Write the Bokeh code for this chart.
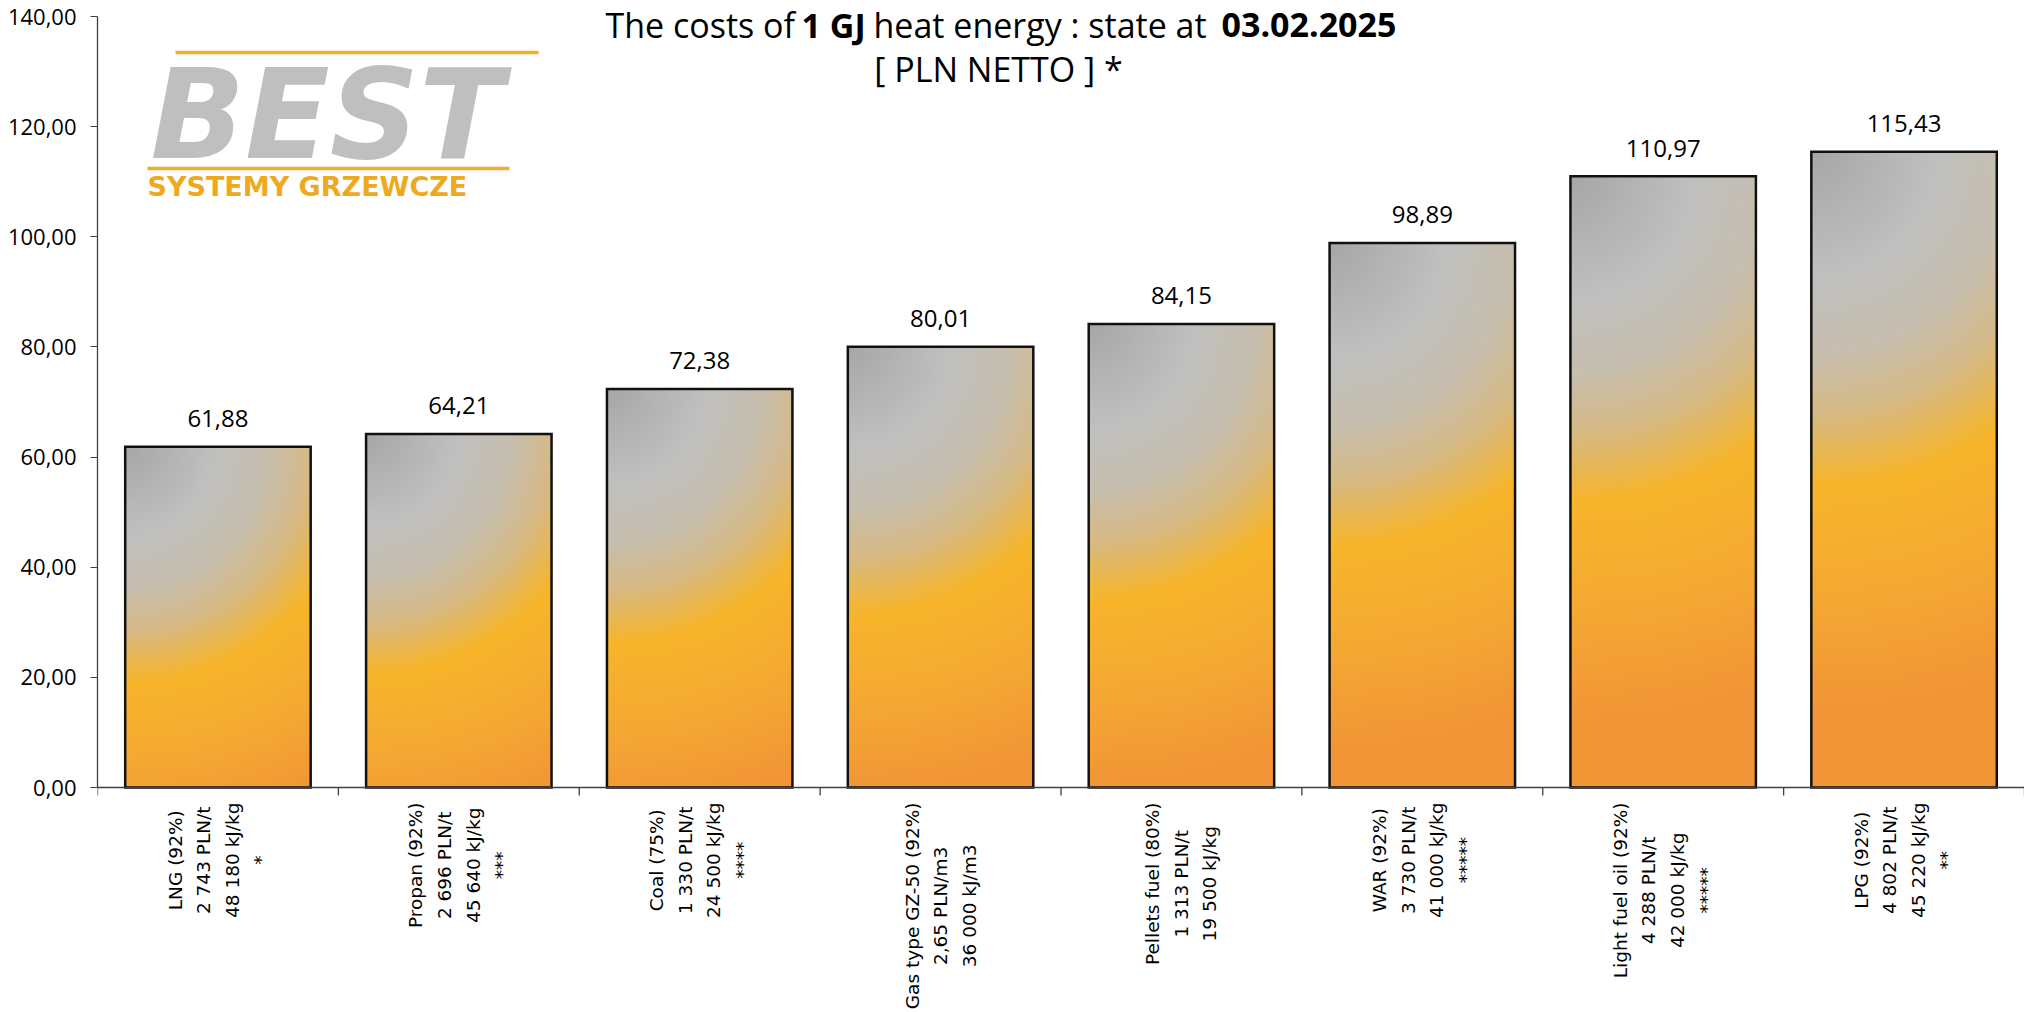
import numpy as np
from bokeh.plotting import figure
from bokeh.models import Range1d, FixedTicker, Span, Label
from bokeh.core.properties import value
from bokeh.embed import file_html
from bokeh.resources import INLINE

# ---------------- data ----------------
fuels = ["LNG", "Propan", "Coal", "Gas type GZ-50", "Pellets fuel", "WAR", "Light fuel oil", "LPG"]
efficiency = ["92%", "92%", "75%", "92%", "80%", "92%", "92%", "92%"]
prices = ["2 743 PLN/t", "2 696 PLN/t", "1 330 PLN/t", "2,65 PLN/m3", "1 313 PLN/t",
          "3 730 PLN/t", "4 288 PLN/t", "4 802 PLN/t"]
calorific = ["48 180 kJ/kg", "45 640 kJ/kg", "24 500 kJ/kg", "36 000 kJ/m3", "19 500 kJ/kg",
             "41 000 kJ/kg", "42 000 kJ/kg", "45 220 kJ/kg"]
notes = ["*", "***", "****", "", "", "*****", "*****", "**"]
cost_per_gj = [61.88, 64.21, 72.38, 80.01, 84.15, 98.89, 110.97, 115.43]
y_ticks = [0, 20, 40, 60, 80, 100, 120, 140]
y_tick_labels = ["0,00", "20,00", "40,00", "60,00", "80,00", "100,00", "120,00", "140,00"]

title_parts = [("The costs of", "normal"), ("1 GJ", "bold"), ("heat energy : state at", "normal"),
               ("03.02.2025", "bold")]
subtitle = "[ PLN NETTO ] *"

# ---------------- layout geometry (canvas pixels) ----------------
W, H = 2024, 1012
FRAME_L = 97
Y0_PX, YTOP_PX = 787, 16          # canvas rows of value 0 and of value 140
ppu_y = (Y0_PX - YTOP_PX) / 140.0
ppu_x = (W - FRAME_L) / len(fuels)
y_start = -(H - Y0_PX) / ppu_y
y_end = 140 + YTOP_PX / ppu_y
BASE_CORR = 0.42                  # shift (in em) for alphabetic baseline placement


def dx(px):
    return (px - FRAME_L) / ppu_x


def dy(py):
    return (Y0_PX - py) / ppu_y


def dyb(py, fs):
    # data y for a text whose alphabetic baseline should sit at canvas row py
    return dy(py - BASE_CORR * fs)


n = len(fuels)
centers = [i + 0.5 for i in range(n)]
bar_w = 0.77

labels = []
for f, e, pr, c, s in zip(fuels, efficiency, prices, calorific, notes):
    lines = [f"{f} ({e})", pr, c] + ([s] if s else [])
    labels.append("\n".join(lines))

p = figure(width=W, height=H, x_range=Range1d(0, n), y_range=Range1d(y_start, y_end),
           output_backend="svg", toolbar_location=None, x_axis_location=None,
           min_border_left=FRAME_L, min_border_right=0, min_border_top=0, min_border_bottom=0)
p.grid.visible = False
p.outline_line_color = None
p.background_fill_color = "white"

ax = p.yaxis[0]
ax.ticker = FixedTicker(ticks=y_ticks)
ax.major_label_overrides = {t: l for t, l in zip(y_ticks, y_tick_labels)}
ax.bounds = (0, 140)
ax.major_tick_in = 0
ax.major_tick_out = 7
ax.minor_tick_line_color = None
ax.axis_line_color = "#404040"
ax.major_tick_line_color = "#404040"
ax.axis_line_width = 1.3
ax.major_label_text_font = "Open Sans"
ax.major_label_text_font_size = "22px"
ax.major_label_text_color = "#000000"
ax.major_label_standoff = 14

# ---------------- gradient fill of bars ----------------
grad_t = [0.0, 0.22, 0.36, 0.47, 0.60, 0.80, 1.0]
grad_hex = ["#A6A6A6", "#BFBFBF", "#C6BEAE", "#D6B985", "#F7B52A", "#F4A832", "#F29536"]
grad_c = np.array([[int(h[i:i + 2], 16) for i in (1, 3, 5)] for h in grad_hex], float)

bar_px_w = bar_w * ppu_x
imgs = []
nx = 64
for v in cost_per_gj:
    h_px = v * ppu_y
    ny = int(round(v * 2.5))
    xs = (np.arange(nx) + 0.5) / nx * bar_px_w
    yb = (np.arange(ny) + 0.5) / ny * h_px
    X, Y = np.meshgrid(xs, h_px - yb)
    d = np.hypot(X, Y)
    S = 0.6 * np.hypot(bar_px_w, h_px) + 160
    t = np.clip(d / S, 0, 1)
    img = np.empty((ny, nx), dtype=np.uint32)
    view = img.view(dtype=np.uint8).reshape((ny, nx, 4))
    for k in range(3):
        view[..., k] = np.round(np.interp(t, grad_t, grad_c[:, k])).astype(np.uint8)
    view[..., 3] = 255
    imgs.append(img)

p.image_rgba(image=imgs, x=[c - bar_w / 2 for c in centers], y=[0] * n,
             dw=[bar_w] * n, dh=cost_per_gj)
p.vbar(x=centers, width=bar_w, top=cost_per_gj, bottom=0, fill_color=None,
       line_color="#111111", line_width=2.5, line_join="miter")

# value labels
p.text(x=centers, y=cost_per_gj, text=[f"{v:.2f}".replace(".", ",") for v in cost_per_gj],
       text_align="center", text_baseline="alphabetic", y_offset=-18 - BASE_CORR * 24,
       text_font=value("Open Sans"), text_font_size="24px", text_color="#000000")

# x axis line and ticks
p.add_layout(Span(location=0, dimension="width", line_color="#404040", line_width=1.3))
tick_len = 8 / ppu_y
bounds = list(range(n + 1))
p.segment(x0=bounds, y0=[0] * (n + 1), x1=bounds, y1=[-tick_len] * (n + 1),
          line_color="#404040", line_width=1.3)

# category labels (rotated, multi-line)
p.text(x=centers, y=[0] * n, text=labels, angle=np.pi / 2, anchor=value("center_right"),
       text_align="center", text_baseline="middle", y_offset=15,
       text_font=value("DejaVu Sans"), text_font_size="18.5px", text_line_height=1.36,
       text_color="#000000")

# ---------------- logo ----------------
p.segment(x0=[dx(175), dx(147)], y0=[dy(52), dy(168)], x1=[dx(538), dx(509)], y1=[dy(52), dy(168)],
          line_color="#EFB02A", line_width=3.5)
p.add_layout(Label(x=dx(150), y=dyb(167, 124), text="BEST", text_font="DejaVu Sans",
                   text_font_style="bold italic", text_font_size="124px", text_color="#BFBFBF",
                   text_baseline="alphabetic", text_align="left"))
p.add_layout(Label(x=dx(147), y=dyb(197, 27), text="SYSTEMY GRZEWCZE", text_font="DejaVu Sans",
                   text_font_style="bold", text_font_size="27px", text_color="#EFA91F",
                   text_baseline="alphabetic", text_align="left"))

# ---------------- title ----------------
TFS = 34
title_x = [605, 801, 873, 1221]
for (txt, style), px in zip(title_parts, title_x):
    p.add_layout(Label(x=dx(px), y=dyb(39, TFS), text=txt, text_font="Open Sans",
                       text_font_style=style, text_font_size=f"{TFS}px", text_color="#000000",
                       text_baseline="alphabetic", text_align="left"))
p.add_layout(Label(x=dx(998), y=dyb(83, TFS), text=subtitle, text_font="Open Sans",
                   text_font_size=f"{TFS}px", text_color="#000000",
                   text_baseline="alphabetic", text_align="center"))

open("out.html", "w").write(file_html(p, INLINE))
